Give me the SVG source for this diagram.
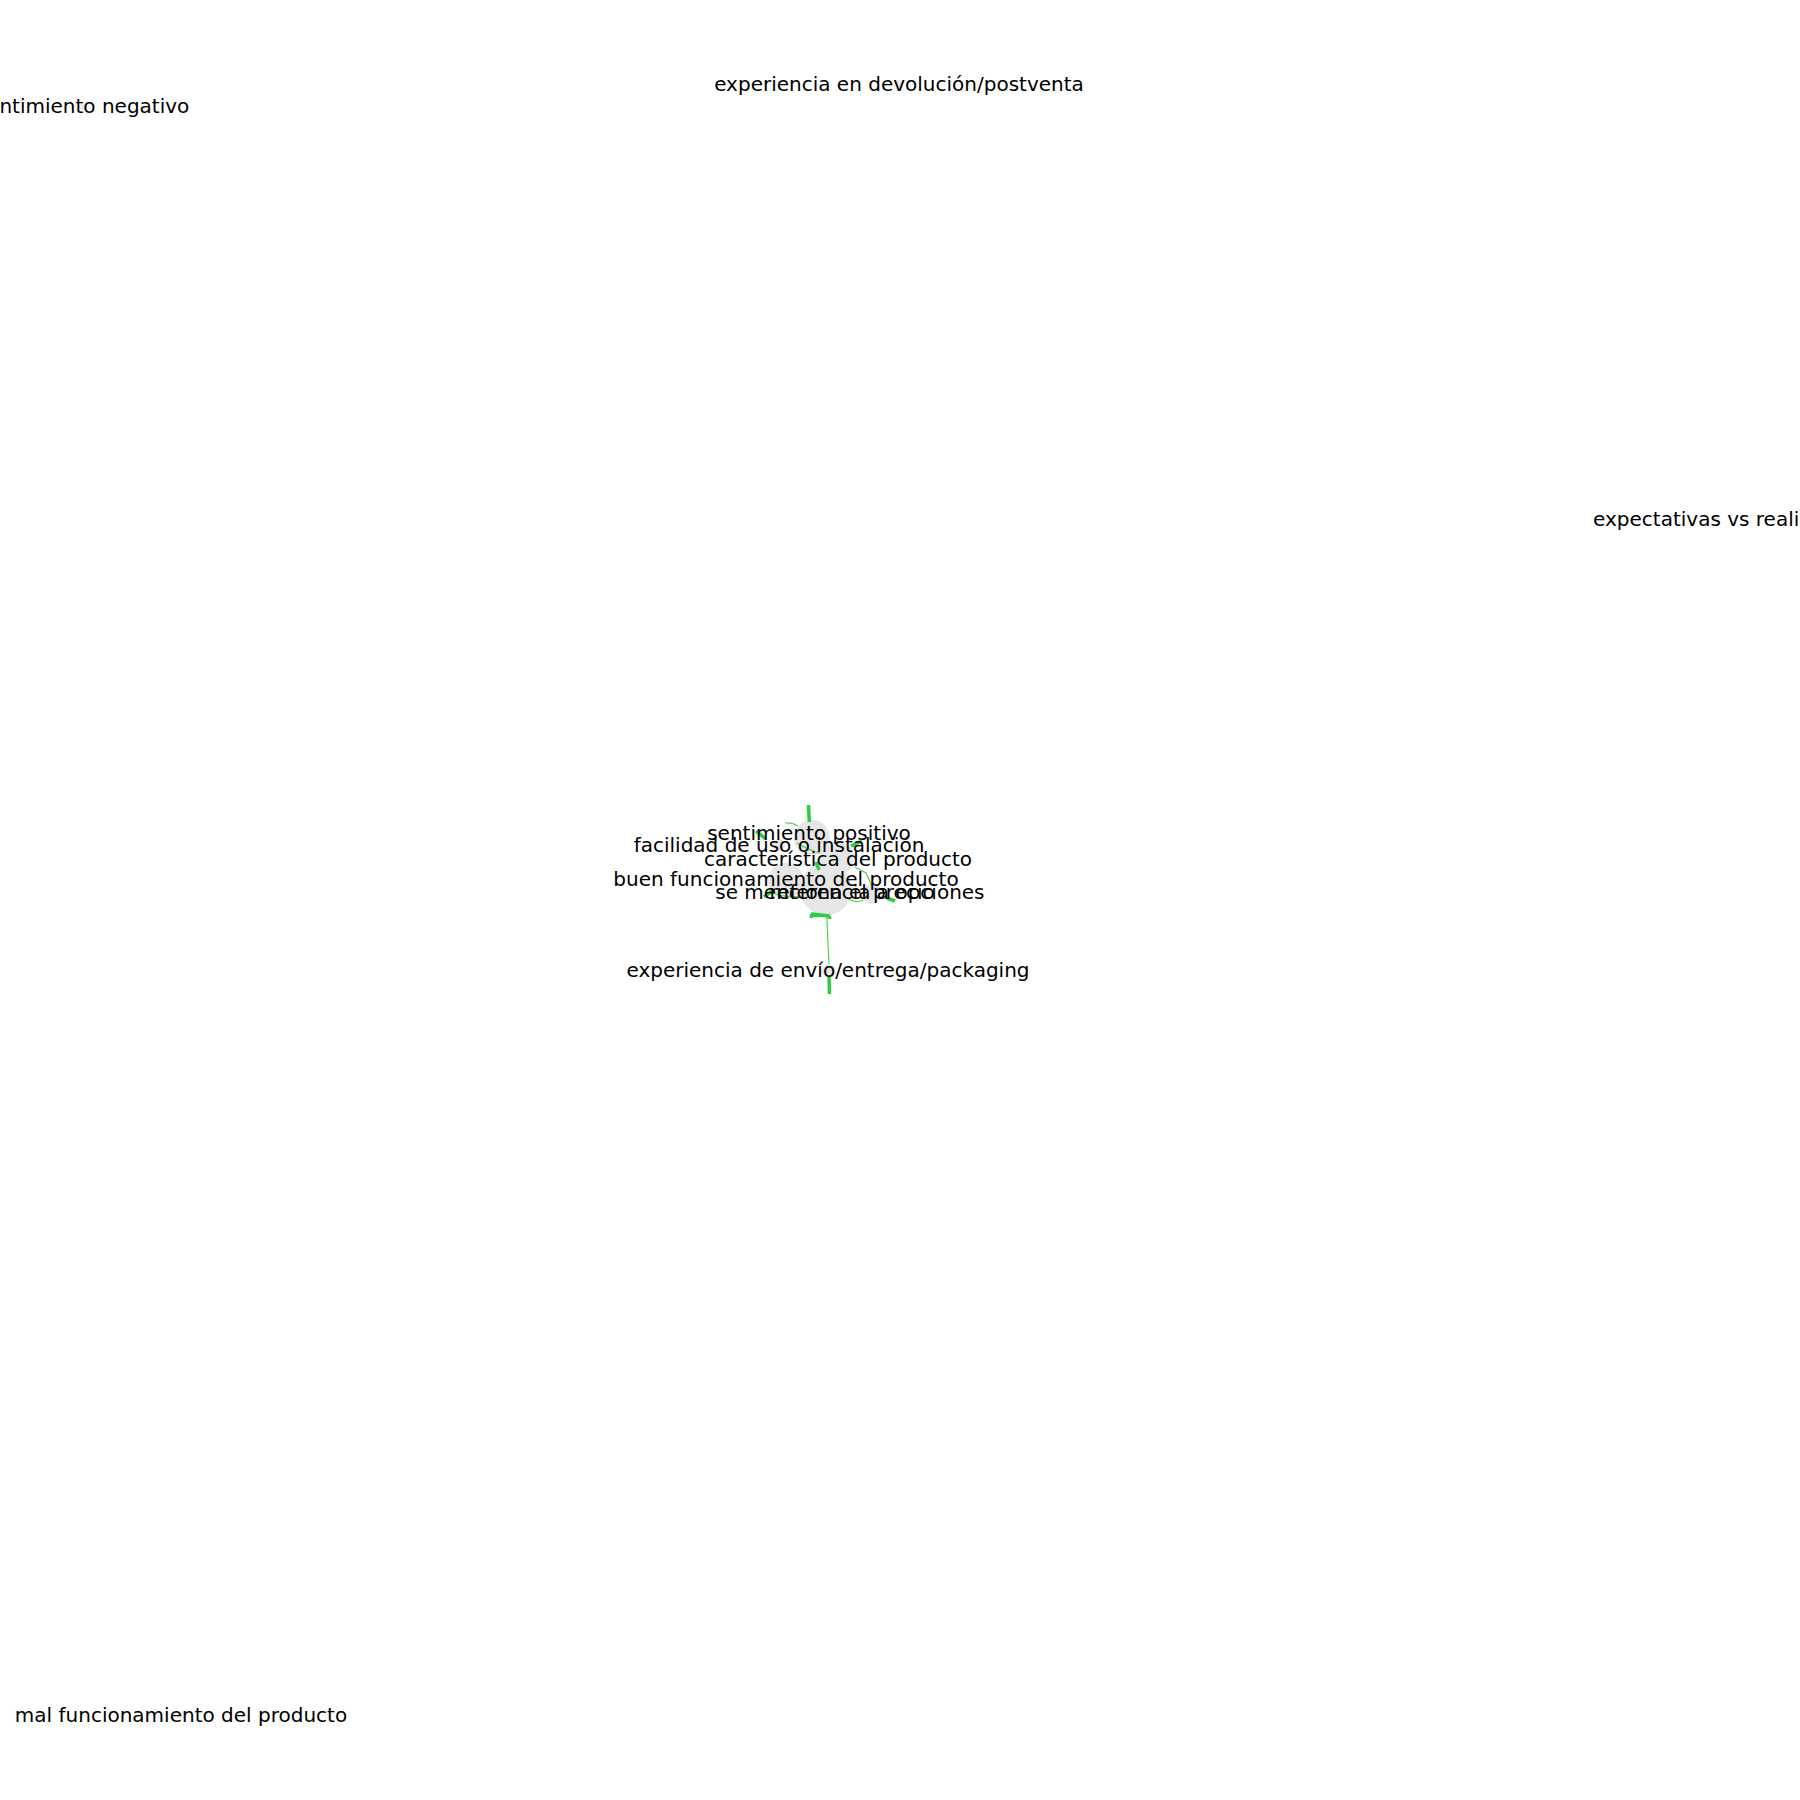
<svg xmlns="http://www.w3.org/2000/svg" width="1800" height="1800" viewBox="0 0 1800 1800">
<style>
  .node { fill: #e6e6e6; }
  .far { fill: #eeeeee; }
  .lbl { font-family: "DejaVu Sans", "Liberation Sans", sans-serif; font-size: 20px; fill: #000000; text-anchor: middle; }
  .edge { fill: none; stroke: #33cc33; stroke-width: 1.2; stroke-opacity: 0.85; }
  .thick { fill: none; stroke: #2ecc40; stroke-width: 3.5; stroke-linecap: butt; }
</style>
<rect x="0" y="0" width="1800" height="1800" fill="#ffffff"/>

<g id="nodes">
  <g id="n-sentimiento-positivo"><circle class="node" cx="812" cy="838" r="18"/></g>
  <g id="n-caracteristica"><circle class="node" cx="837" cy="858" r="17"/></g>
  <g id="n-buen-funcionamiento"><circle class="node" cx="786" cy="881" r="18"/></g>
  <g id="n-se-menciona-precio"><circle class="node" cx="826" cy="889" r="26"/></g>
  <g id="n-referencia-opciones"><circle class="node" cx="872" cy="894" r="10"/></g>
  <g id="n-facilidad"><circle class="node" cx="779" cy="845" r="6"/></g>
  <g id="n-envio"><circle class="node" cx="829" cy="971" r="7"/></g>
  <g id="n-devolucion"><circle class="far" cx="899" cy="84" r="4"/></g>
  <g id="n-sentimiento-negativo"><circle class="far" cx="83" cy="106" r="4"/></g>
  <g id="n-expectativas"><circle class="far" cx="1715" cy="519" r="4"/></g>
  <g id="n-mal-funcionamiento"><circle class="far" cx="181" cy="1715" r="4"/></g>
</g>

<g id="edges">
  <path class="edge" d="M 773 893 Q 786 898 801 896"/>
  <path class="edge" d="M 785 823 Q 792 822 798 826"/>
  <path class="edge" d="M 797 843 Q 808 850 820 853"/>
  <path class="edge" d="M 855 867 L 866 873 L 872 886"/>
  <path class="edge" d="M 847 898 Q 855 904 863 900"/>
  <path class="edge" d="M 826.7 915 L 829 964"/>
  <path class="thick" d="M 808.5 805 L 809.3 822"/>
  <path class="thick" d="M 756 831 L 766 839"/>
  <path class="thick" d="M 851 846 L 862 841"/>
  <path class="thick" d="M 816 862 L 819 870"/>
  <path class="thick" d="M 764 897 L 772 891"/>
  <path class="thick" d="M 887 898 L 895 901"/>
  <path class="thick" d="M 811 914 L 830 916 M 811.5 914 L 811.5 918 M 829.5 916 L 829.5 919"/>
  <path class="thick" d="M 829 976 L 829.5 994"/>
</g>

<g id="labels">
  <text class="lbl" x="899" y="91">experiencia en devolución/postventa</text>
  <text class="lbl" x="83" y="113">sentimiento negativo</text>
  <text class="lbl" x="1715" y="526">expectativas vs realidad</text>
  <text class="lbl" x="181" y="1722">mal funcionamiento del producto</text>
  <text class="lbl" x="809" y="840">sentimiento positivo</text>
  <text class="lbl" x="779" y="852">facilidad de uso o instalación</text>
  <text class="lbl" x="838" y="866">característica del producto</text>
  <text class="lbl" x="786" y="886">buen funcionamiento del producto</text>
  <text class="lbl" x="825" y="899">se menciona el precio</text>
  <text class="lbl" x="877" y="899">referencia a opciones</text>
  <text class="lbl" x="828" y="977">experiencia de envío/entrega/packaging</text>
</g>
</svg>
